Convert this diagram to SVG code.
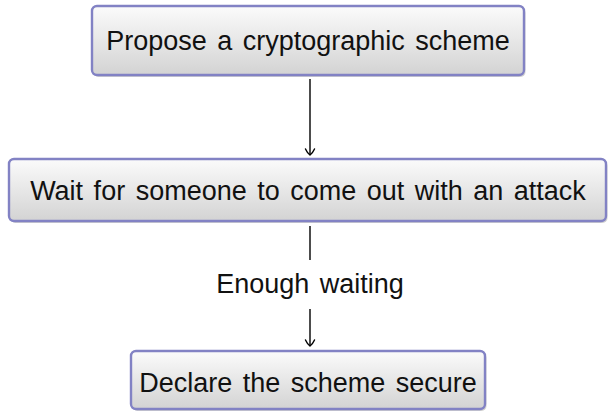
<svg xmlns="http://www.w3.org/2000/svg" width="608" height="413" viewBox="0 0 608 413">
<defs>
<linearGradient id="g" x1="0" y1="0" x2="0" y2="1">
<stop offset="0" stop-color="#fbfbfb"/>
<stop offset="1" stop-color="#d3d3d3"/>
</linearGradient>
<marker id="to" viewBox="-8 -6 10 12" markerWidth="10" markerHeight="12" refX="0" refY="0" orient="auto" markerUnits="userSpaceOnUse">
<path d="M-6,-4.5 C-2.5,-3 -0.8,-1 0,0 C-0.8,1 -2.5,3 -6,4.5" fill="none" stroke="#000" stroke-width="1.4" stroke-linecap="round"/>
</marker>
</defs>
<style>
.box{fill:url(#g);stroke:#8282c4;stroke-width:2.4}
.sh{fill:#9a9a9a;opacity:0.45}
.t{font-family:"Liberation Sans",Arial,sans-serif;font-size:27px;fill:#111;text-anchor:middle;word-spacing:3px}
.c{stroke:#000;stroke-width:1.4;fill:none}
</style>
<rect width="608" height="413" fill="#fff"/>
<g id="connectors">
<line class="c" x1="310" y1="79" x2="310" y2="155" marker-end="url(#to)"/>
<line class="c" x1="310" y1="226" x2="310" y2="260"/>
<line class="c" x1="310" y1="309" x2="310" y2="346" marker-end="url(#to)"/>
<text class="t" x="310" y="293">Enough waiting</text>
</g>
<g id="n1">
<rect class="sh" x="93.5" y="8" width="432" height="69" rx="5"/>
<rect class="box" x="92" y="6" width="432" height="69" rx="5"/>
<text class="t" x="308" y="50">Propose a cryptographic scheme</text>
</g>
<g id="n2">
<rect class="sh" x="10.5" y="161" width="597" height="62" rx="5"/>
<rect class="box" x="9" y="159" width="597" height="62" rx="5"/>
<text class="t" x="308" y="200">Wait for someone to come out with an attack</text>
</g>
<g id="n3">
<rect class="sh" x="132.5" y="353" width="354" height="58" rx="5"/>
<rect class="box" x="131" y="351" width="354" height="58" rx="5"/>
<text class="t" x="308" y="392">Declare the scheme secure</text>
</g>
</svg>
